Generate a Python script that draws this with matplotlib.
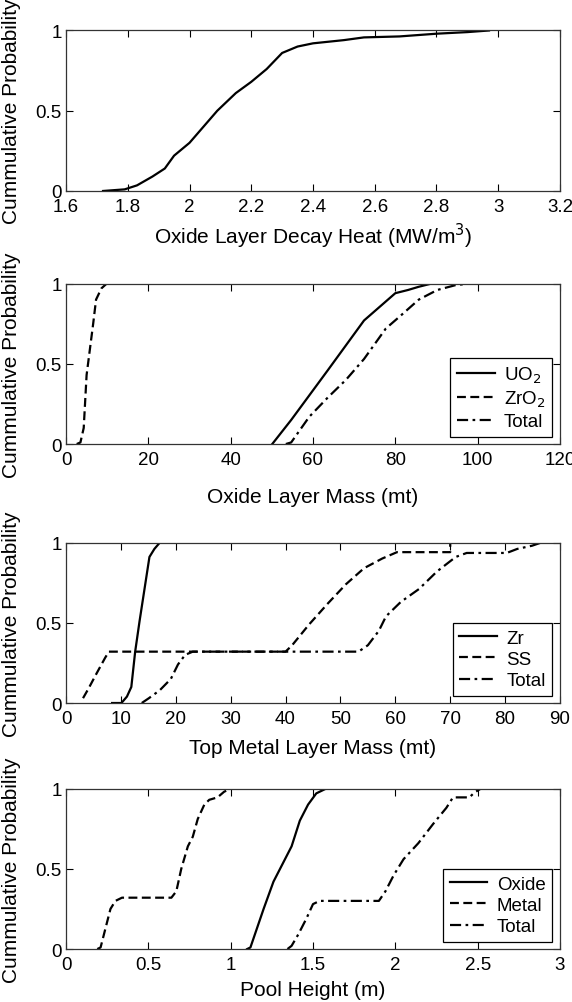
import matplotlib
matplotlib.use("Agg")
import matplotlib.pyplot as plt

plt.rcParams['font.family'] = ['Liberation Sans', 'DejaVu Sans']

# Oxide layer decay heat (MW/m3)
heat_x = [1.72, 1.79, 1.83, 1.88, 1.92, 1.95, 2.0, 2.045, 2.09, 2.15, 2.2, 2.25, 2.3,
          2.35, 2.4, 2.5, 2.565, 2.68, 2.8, 2.9, 2.97]
heat_p = [0.0, 0.01, 0.035, 0.09, 0.14, 0.22, 0.30, 0.40, 0.50, 0.61, 0.68, 0.76, 0.86,
          0.90, 0.92, 0.94, 0.957, 0.963, 0.98, 0.99, 1.0]

# Oxide layer mass (mt)
uo2_x = [50.1, 54.7, 63.6, 72.4, 80.0, 83.1, 85.7, 88.8]
uo2_p = [0.0, 0.15, 0.46, 0.77, 0.94, 0.96, 0.98, 1.0]
zro2_x = [2.6, 3.5, 4.3, 5.0, 5.8, 6.6, 7.3, 8.6, 9.9]
zro2_p = [0.0, 0.01, 0.10, 0.43, 0.59, 0.75, 0.90, 0.97, 1.0]
oxtot_x = [53.4, 54.7, 59.1, 63.6, 68.0, 72.4, 77.7, 81.3, 85.7, 90.2, 94.6, 98.1]
oxtot_p = [0.0, 0.01, 0.17, 0.29, 0.40, 0.53, 0.72, 0.80, 0.90, 0.96, 0.99, 1.0]

# Top metal layer mass (mt)
zr_x = [8.4, 10.1, 11.1, 11.9, 12.6, 13.4, 14.3, 15.2, 16.1, 17.1]
zr_p = [0.0, 0.0, 0.04, 0.10, 0.32, 0.51, 0.71, 0.91, 0.96, 1.0]
ss_x = [3.1, 4.1, 5.5, 7.1, 7.8, 40.0, 41.2, 44.3, 47.7, 51.0, 54.3, 57.6, 60.3, 70.0, 70.0]
ss_p = [0.03, 0.09, 0.18, 0.28, 0.32, 0.32, 0.36, 0.49, 0.62, 0.74, 0.84, 0.90, 0.94, 0.94, 1.0]
mtot_x = [13.8, 15.1, 17.1, 19.1, 20.4, 21.7, 23.1, 53.3, 55.0, 57.0, 58.3, 61.0, 64.3,
          67.6, 71.0, 73.0, 80.3, 82.2, 84.9, 86.6]
mtot_p = [0.0, 0.03, 0.08, 0.15, 0.24, 0.30, 0.32, 0.32, 0.36, 0.45, 0.54, 0.63, 0.71,
          0.82, 0.91, 0.935, 0.935, 0.96, 0.98, 1.0]

# Pool height (m)
oxh_x = [1.10, 1.12, 1.16, 1.20, 1.26, 1.31, 1.37, 1.42, 1.47, 1.52, 1.58]
oxh_p = [0.0, 0.01, 0.13, 0.25, 0.42, 0.52, 0.64, 0.80, 0.90, 0.97, 1.0]
meh_x = [0.19, 0.21, 0.24, 0.27, 0.30, 0.34, 0.64, 0.67, 0.70, 0.74, 0.77, 0.80, 0.84,
         0.87, 0.92, 0.96, 1.0]
meh_p = [0.0, 0.01, 0.13, 0.25, 0.30, 0.32, 0.32, 0.36, 0.50, 0.64, 0.70, 0.81, 0.90,
         0.93, 0.945, 0.98, 1.0]
toth_x = [1.345, 1.37, 1.41, 1.46, 1.50, 1.54, 1.90, 1.94, 1.99, 2.05, 2.14, 2.23, 2.31,
          2.35, 2.45, 2.48, 2.52]
toth_p = [0.0, 0.02, 0.09, 0.19, 0.28, 0.30, 0.30, 0.36, 0.46, 0.56, 0.66, 0.78, 0.88,
          0.945, 0.945, 0.975, 1.0]

heat_ticks = [1.6, 1.8, 2.0, 2.2, 2.4, 2.6, 2.8, 3.0, 3.2]
heat_labels = ['1.6', '1.8', '2', '2.2', '2.4', '2.6', '2.8', '3', '3.2']
oxm_ticks = [0, 20, 40, 60, 80, 100, 120]
metm_ticks = [0, 10, 20, 30, 40, 50, 60, 70, 80, 90]
pool_ticks = [0, 0.5, 1, 1.5, 2, 2.5, 3]
pool_labels = ['0', '0.5', '1', '1.5', '2', '2.5', '3']

DASH = (0, (4, 2))
DASHDOT = (0, (5, 2, 1.2, 2))

fig = plt.figure(figsize=(5.72, 10.03), dpi=100)
left, width, height = 0.1154, 0.8636, 0.16
bottoms = [0.8086, 0.5563, 0.2981, 0.0528]
axes = [fig.add_axes([left, b, width, height]) for b in bottoms]


def style(ax, xlim, ticks, labels, xlabel, pad=5):
    ax.set_xlim(xlim)
    ax.set_ylim(0, 1)
    ax.set_xticks(ticks)
    ax.set_xticklabels(labels)
    ax.set_yticks([0, 0.5, 1])
    ax.set_yticklabels(['0', '0.5', '1'])
    ax.tick_params(direction='in', top=True, right=True, labelsize=13.5,
                   length=5, width=0.8)
    ax.tick_params(axis='x', pad=5)
    ax.tick_params(axis='y', pad=3)
    for s in ax.spines.values():
        s.set_linewidth(0.9)
        s.set_color('#333333')
    ax.set_xlabel(xlabel, fontsize=15, labelpad=pad)
    ax.set_ylabel('Cummulative Probability', fontsize=15)
    ax.yaxis.set_label_coords(-0.092, 0.5)


def legend(ax, labels):
    leg = ax.legend(labels, loc='lower right', bbox_to_anchor=(0.984, 0.045),
                    fontsize=13.5, frameon=True, fancybox=False, framealpha=1,
                    edgecolor='black', handlelength=2.0, handletextpad=0.5,
                    borderpad=0.35, labelspacing=0.22, borderaxespad=0)
    leg.get_frame().set_linewidth(0.9)


lw = 1.6
ax = axes[0]
ax.plot(heat_x, heat_p, color='black', lw=lw)
style(ax, (1.6, 3.2), heat_ticks, heat_labels, 'Oxide Layer Decay Heat (MW/m$^3$)', pad=4)

ax = axes[1]
ax.plot(uo2_x, uo2_p, color='black', lw=lw, linestyle='-')
ax.plot(zro2_x, zro2_p, color='black', lw=lw, linestyle=DASH)
ax.plot(oxtot_x, oxtot_p, color='black', lw=lw, linestyle=DASHDOT)
style(ax, (0, 120), oxm_ticks, [str(t) for t in oxm_ticks], 'Oxide Layer Mass (mt)', pad=14)
legend(ax, ['UO$_2$', 'ZrO$_2$', 'Total'])

ax = axes[2]
ax.plot(zr_x, zr_p, color='black', lw=lw, linestyle='-')
ax.plot(ss_x, ss_p, color='black', lw=lw, linestyle=DASH)
ax.plot(mtot_x, mtot_p, color='black', lw=lw, linestyle=DASHDOT)
style(ax, (0, 90), metm_ticks, [str(t) for t in metm_ticks], 'Top Metal Layer Mass (mt)', pad=8)
legend(ax, ['Zr', 'SS', 'Total'])

ax = axes[3]
ax.plot(oxh_x, oxh_p, color='black', lw=lw, linestyle='-')
ax.plot(meh_x, meh_p, color='black', lw=lw, linestyle=DASH)
ax.plot(toth_x, toth_p, color='black', lw=lw, linestyle=DASHDOT)
style(ax, (0, 3), pool_ticks, pool_labels, 'Pool Height (m)', pad=5)
legend(ax, ['Oxide', 'Metal', 'Total'])

fig.savefig('out.png', dpi=100)
